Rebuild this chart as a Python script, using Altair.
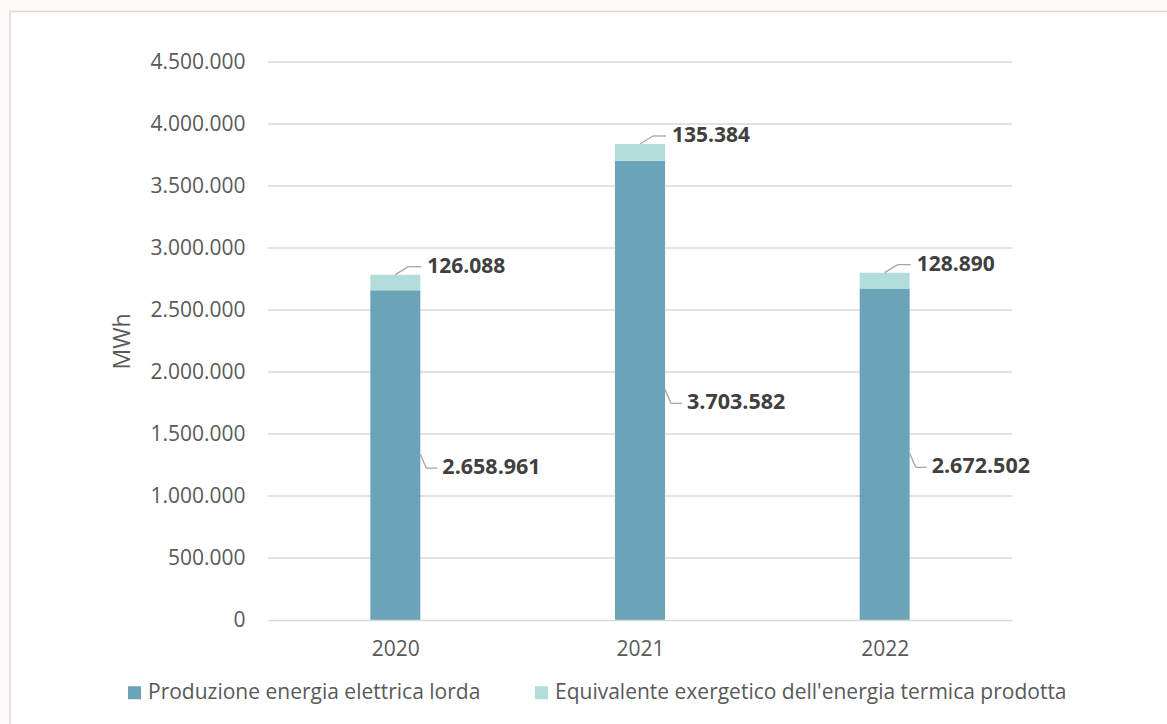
import altair as alt
import pandas as pd

years = ["2020", "2021", "2022"]
produzione = [2658961, 3703582, 2672502]
equivalente = [126088, 135384, 128890]
series_names = ["Produzione energia elettrica lorda",
                "Equivalente exergetico dell'energia termica prodotta"]
y_ticks = [0, 500000, 1000000, 1500000, 2000000, 2500000, 3000000, 3500000, 4000000, 4500000]

DARK = "#6BA3B9"
LIGHT = "#B3DDDB"
FONT = "Open Sans"
TXT = "#595959"


def it_fmt(v):
    return f"{v:,}".replace(",", ".")


rows = []
for i, y in enumerate(years):
    rows.append({"xi": i, "year": y, "serie": series_names[0], "value": produzione[i], "ord": 0})
    rows.append({"xi": i, "year": y, "serie": series_names[1], "value": equivalente[i], "ord": 1})
bars_df = pd.DataFrame(rows)

lab_df = pd.DataFrame({
    "xi": list(range(len(years))),
    "mid": [p / 2 for p in produzione],
    "top": [p + e for p, e in zip(produzione, equivalente)],
    "lab_bot": [it_fmt(p) for p in produzione],
    "lab_top": [it_fmt(e) for e in equivalente],
})

label_expr = "[" + ",".join(f"'{y}'" for y in years) + "][datum.value]"

x_scale = alt.Scale(domain=[-0.5, len(years) - 0.5], nice=False, zero=False)
y_scale = alt.Scale(domain=[0, 4500000], nice=False)

y_axis = alt.Axis(values=y_ticks, format=",d", title="MWh", ticks=False, domain=False,
                  grid=False, labelPadding=23,
                  labelFontSize=21, labelColor=TXT, labelFont=FONT,
                  titleFontSize=23, titleColor=TXT, titleFont=FONT,
                  titleFontWeight="normal", titlePadding=15, zindex=1)

border = alt.Chart(pd.DataFrame({"a": [0]})).mark_rect(
    fill="white", stroke="#D9D9D9", strokeWidth=1.5
).encode(
    x=alt.value(-258), x2=alt.value(960),
    y=alt.value(-50.5), y2=alt.value(700)
)

grid = alt.Chart(pd.DataFrame({"v": y_ticks[1:]})).mark_rule(
    color="#D9D9D9", strokeWidth=1.3
).encode(y=alt.Y("v:Q", scale=y_scale, axis=y_axis, title="MWh"))

bars = alt.Chart(bars_df).mark_bar(width=50).encode(
    x=alt.X("xi:Q", scale=x_scale,
            axis=alt.Axis(values=list(range(len(years))), labelExpr=label_expr, title=None,
                          ticks=False, grid=False, domainColor="#D9D9D9", domainWidth=1.3,
                          labelPadding=18, labelFontSize=21, labelColor=TXT,
                          labelFont=FONT, zindex=1)),
    y=alt.Y("value:Q", stack="zero", scale=y_scale, axis=y_axis, title="MWh"),
    color=alt.Color("serie:N", scale=alt.Scale(domain=series_names, range=[DARK, LIGHT]),
                    legend=alt.Legend(orient="none", legendX=-144, legendY=620,
                                      direction="horizontal", title=None,
                                      symbolType="square", symbolSize=169,
                                      symbolStrokeWidth=0, labelFontSize=21,
                                      labelColor=TXT, labelFont=FONT,
                                      columnPadding=50, labelOffset=3,
                                      labelLimit=700)),
    order=alt.Order("ord:Q")
)

LINE = "#A6A6A6"
base = alt.Chart(lab_df)

bot_diag = base.mark_rule(color=LINE, strokeWidth=1.3, xOffset=25, x2Offset=31,
                          yOffset=-1, y2Offset=13).encode(
    x=alt.X("xi:Q"), x2="xi", y=alt.Y("mid:Q"), y2="mid")
bot_hor = base.mark_rule(color=LINE, strokeWidth=1.3, xOffset=31, x2Offset=42,
                         yOffset=13, y2Offset=13).encode(
    x=alt.X("xi:Q"), x2="xi", y=alt.Y("mid:Q"), y2="mid")
top_diag = base.mark_rule(color=LINE, strokeWidth=1.3, xOffset=0, x2Offset=13,
                          yOffset=0, y2Offset=-8).encode(
    x=alt.X("xi:Q"), x2="xi", y=alt.Y("top:Q"), y2="top")
top_hor = base.mark_rule(color=LINE, strokeWidth=1.3, xOffset=13, x2Offset=26,
                         yOffset=-8, y2Offset=-8).encode(
    x=alt.X("xi:Q"), x2="xi", y=alt.Y("top:Q"), y2="top")

bot_text = base.mark_text(align="left", baseline="middle", dx=47, dy=13, fontSize=21.5,
                          fontWeight="bold", color="#404040", font=FONT).encode(
    x=alt.X("xi:Q"), y=alt.Y("mid:Q"), text="lab_bot:N")
top_text = base.mark_text(align="left", baseline="middle", dx=32, dy=-8, fontSize=21,
                          fontWeight="bold", color="#404040", font=FONT).encode(
    x=alt.X("xi:Q"), y=alt.Y("top:Q"), text="lab_top:N")

chart = alt.layer(border, grid, bars, bot_diag, bot_hor, top_diag, top_hor, bot_text, top_text).properties(
    width=744, height=558,
    autosize=alt.AutoSizeParams(type="none"),
    padding={"left": 268, "top": 62, "right": 155, "bottom": 104},
    background="#FDFBF7",
).configure_view(stroke=None).configure(
    locale={"number": {"decimal": ",", "thousands": ".", "grouping": [3], "currency": ["", " €"]}}
)

chart.save("out.html", embed_options={"renderer": "svg", "actions": False})
